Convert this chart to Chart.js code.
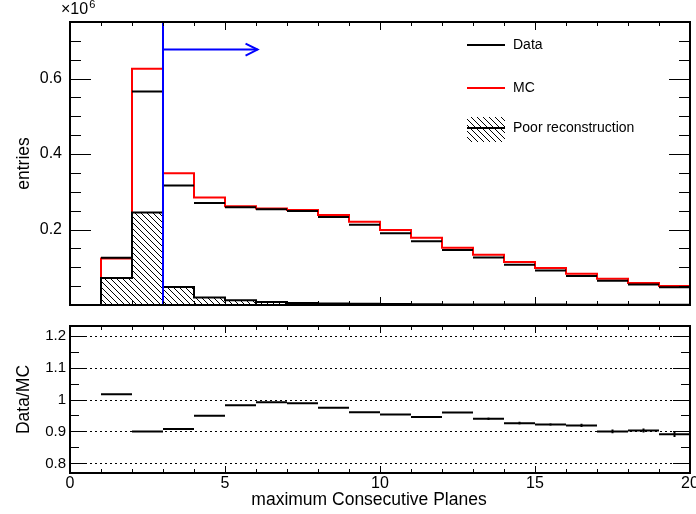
<!DOCTYPE html>
<html>
<head>
<meta charset="utf-8">
<script src="https://cdn.jsdelivr.net/npm/chart.js@4.4.1/dist/chart.umd.min.js"></script>
<style>
  body { margin: 0; background: #fff; }
  canvas { position: absolute; left: 0; }
  #topPad { top: 0; }
  #ratioPad { top: 310px; }
</style>
</head>
<body>
<canvas id="topPad" width="696" height="310"></canvas>
<canvas id="ratioPad" width="696" height="204"></canvas>
<script>
// bins of "maximum Consecutive Planes" (lower edges), last edge = 20
const BIN_LOW = [0, 1, 2, 3, 4, 5, 6, 7, 8, 9, 10, 11, 12, 13, 14, 15, 16, 17, 18, 19];
const X_MAX = 20;

// entries in units of 10^6
const MC = [0, 0.123, 0.626, 0.349, 0.285, 0.262, 0.256, 0.252, 0.2388, 0.2203,
  0.199, 0.178, 0.1517, 0.133, 0.1138, 0.098, 0.083, 0.0697, 0.0584, 0.0505];
const DATA = [0, 0.125, 0.566, 0.317, 0.2705, 0.259, 0.2535, 0.249, 0.233, 0.213,
  0.190, 0.169, 0.146, 0.126, 0.1067, 0.0917, 0.0769, 0.0645, 0.054, 0.0468];
const POOR = [0, 0.0716, 0.245, 0.048, 0.020, 0.0125, 0.008, 0.005, 0.004, 0.003,
  0.0025, 0.002, 0.0015, 0.0012, 0.001, 0.001, 0.0008, 0.0007, 0.0006, 0.0005];

// Data/MC ratio and its error (bin 0 empty)
const RATIO = [null, 1.0165, 0.900, 0.9075, 0.949, 0.982, 0.9915, 0.9885, 0.974, 0.9604,
  0.953, 0.945, 0.9595, 0.9396, 0.926, 0.922, 0.919, 0.900, 0.903, 0.891];
const RATIO_ERR = [null, 0.003, 0.002, 0.002, 0.002, 0.002, 0.002, 0.002, 0.002, 0.003,
  0.003, 0.003, 0.003, 0.004, 0.004, 0.004, 0.005, 0.006, 0.006, 0.008];

// axis ticks
const X_TICKS = [0, 5, 10, 15, 20];
const Y_TICKS = [0.2, 0.4, 0.6];
const RATIO_TICKS = [0.8, 0.9, 1, 1.1, 1.2];
const Y_RANGE = [0, 0.75];
const RATIO_RANGE = [0.77, 1.23];

// cut marker
const CUT_X = 3;
const ARROW_END = 6.05;
const ARROW_Y = 0.677;

const FONT = "'Liberation Sans', Arial, Helvetica, sans-serif";
Chart.defaults.font.family = FONT;
Chart.defaults.color = "#000";

// step histogram points (value held from lower edge to next edge)
function steps(vals) {
  const pts = BIN_LOW.map((x, i) => ({ x, y: vals[i] }));
  pts.push({ x: X_MAX, y: vals[vals.length - 1] });
  return pts;
}

// horizontal bar per bin, optionally with vertical error bar
function binSegments(vals, errs) {
  const pts = [];
  BIN_LOW.forEach((lo, i) => {
    if (vals[i] === null) return;
    const hi = lo + 1;
    pts.push({ x: lo, y: vals[i] }, { x: hi, y: vals[i] }, { x: hi, y: null });
    if (errs) {
      const mid = lo + 0.5;
      pts.push({ x: mid, y: vals[i] - errs[i] }, { x: mid, y: vals[i] + errs[i] }, { x: mid, y: null });
    }
  });
  return pts;
}

function hatch() {
  const c = document.createElement("canvas");
  c.width = 6; c.height = 6;
  const g = c.getContext("2d");
  g.strokeStyle = "#000";
  g.lineWidth = 1;
  g.beginPath();
  g.moveTo(-1, -1); g.lineTo(7, 7);
  g.moveTo(-1, 5); g.lineTo(1, 7);
  g.moveTo(5, -1); g.lineTo(7, 1);
  g.stroke();
  return g.createPattern(c, "repeat");
}
const HATCH = hatch();

// ROOT style frame with inner ticks
function drawFrame(chart, t) {
  const { ctx, chartArea: a, scales: { x, y } } = chart;
  const seg = (x1, y1, x2, y2) => { ctx.beginPath(); ctx.moveTo(x1, y1); ctx.lineTo(x2, y2); ctx.stroke(); };
  ctx.save();
  ctx.strokeStyle = "#000";
  ctx.lineWidth = 1;
  if (t.grid) {
    ctx.setLineDash([2, 3]);
    t.grid.forEach(v => { const py = Math.round(y.getPixelForValue(v)) + 0.5; seg(a.left, py, a.right, py); });
    ctx.setLineDash([]);
  }
  for (let v = x.min; v <= x.max; v++) {
    const px = Math.round(x.getPixelForValue(v)) + 0.5;
    const len = v % 5 === 0 ? t.xMajor : t.xMinor;
    seg(px, a.bottom, px, a.bottom - len);
    seg(px, a.top, px, a.top + len);
  }
  for (let k = Math.ceil(y.min / t.yStep); k * t.yStep <= y.max + 1e-9; k++) {
    const v = k * t.yStep;
    const py = Math.round(y.getPixelForValue(v)) + 0.5;
    const major = k % t.yEvery === 0;
    const len = major ? t.yMajor : t.yMinor;
    seg(a.left, py, a.left + len, py);
    seg(a.right, py, a.right - len, py);
  }
  ctx.lineWidth = 2;
  ctx.strokeRect(a.left, a.top, a.right - a.left, a.bottom - a.top);
  ctx.restore();
}

const topDecor = {
  id: "topDecor",
  afterDatasetsDraw(chart) {
    const { ctx, chartArea: a, scales: { x, y } } = chart;
    // arrow head of the cut
    const px = x.getPixelForValue(ARROW_END), py = y.getPixelForValue(ARROW_Y);
    ctx.save();
    ctx.strokeStyle = "#0000ff";
    ctx.lineWidth = 2;
    ctx.beginPath();
    ctx.moveTo(px - 12, py - 6); ctx.lineTo(px, py); ctx.lineTo(px - 12, py + 6);
    ctx.stroke();
    ctx.restore();

    drawFrame(chart, { xMajor: 8, xMinor: 4, yStep: 0.05, yEvery: 4, yMajor: 21, yMinor: 11 });

    // exponent label
    ctx.save();
    ctx.fillStyle = "#000";
    ctx.textBaseline = "alphabetic";
    ctx.font = "16px " + FONT;
    ctx.fillText("\u00d710", a.left - 9, 14);
    const w = ctx.measureText("\u00d710").width;
    ctx.font = "11px " + FONT;
    ctx.fillText("6", a.left - 9 + w + 1, 8);

    // legend
    const lx0 = 467, lx1 = 505, tx = 513;
    ctx.font = "14px " + FONT;
    ctx.textBaseline = "middle";
    ctx.lineWidth = 2;
    ctx.strokeStyle = "#000";
    ctx.beginPath(); ctx.moveTo(lx0, 45); ctx.lineTo(lx1, 45); ctx.stroke();
    ctx.fillText("Data", tx, 45);
    ctx.strokeStyle = "#ff0000";
    ctx.beginPath(); ctx.moveTo(lx0, 88); ctx.lineTo(lx1, 88); ctx.stroke();
    ctx.fillText("MC", tx, 88);
    ctx.fillStyle = HATCH;
    ctx.fillRect(lx0, 117, lx1 - lx0, 25);
    ctx.strokeStyle = "#000";
    ctx.beginPath(); ctx.moveTo(lx0, 128); ctx.lineTo(lx1, 128); ctx.stroke();
    ctx.fillStyle = "#000";
    ctx.fillText("Poor reconstruction", tx, 128);
    ctx.restore();
  }
};

const ratioDecor = {
  id: "ratioDecor",
  afterDatasetsDraw(chart) {
    const { ctx, chartArea: a } = chart;
    drawFrame(chart, { grid: RATIO_TICKS, xMajor: 7, xMinor: 4, yStep: 0.05, yEvery: 2, yMajor: 17, yMinor: 9 });
    ctx.save();
    ctx.fillStyle = "#000";
    ctx.font = "17.5px " + FONT;
    ctx.textAlign = "center";
    ctx.textBaseline = "middle";
    ctx.fillText("maximum Consecutive Planes", a.left + 299, a.bottom + 27);
    ctx.restore();
  }
};

const histLine = { pointRadius: 0, borderWidth: 2, fill: false, spanGaps: false };
const noEdgePad = s => { s.paddingTop = 0; s.paddingBottom = 0; s.paddingLeft = 0; s.paddingRight = 0; };

new Chart(document.getElementById("topPad"), {
  type: "line",
  data: {
    datasets: [
      { ...histLine, data: [{ x: CUT_X, y: Y_RANGE[0] }, { x: CUT_X, y: Y_RANGE[1] }, { x: CUT_X, y: null },
          { x: CUT_X, y: ARROW_Y }, { x: ARROW_END, y: ARROW_Y }], borderColor: "#0000ff" },
      { ...histLine, data: binSegments(DATA), borderColor: "#000" },
      { ...histLine, data: steps(POOR), stepped: true, borderColor: "#000", backgroundColor: HATCH, fill: "origin" },
      { ...histLine, data: steps(MC), stepped: true, borderColor: "#ff0000" },
    ]
  },
  options: {
    responsive: false,
    animation: false,
    events: [],
    layout: { autoPadding: false, padding: { left: 0, right: 6, top: 22, bottom: 5 } },
    plugins: { legend: { display: false }, tooltip: { enabled: false } },
    scales: {
      x: { type: "linear", min: 0, max: X_MAX, display: false },
      y: {
        type: "linear", min: Y_RANGE[0], max: Y_RANGE[1],
        grid: { display: false, drawTicks: false },
        border: { display: false },
        afterBuildTicks: s => { s.ticks = Y_TICKS.map(v => ({ value: v })); },
        afterFit: s => { s.width = 70; noEdgePad(s); },
        ticks: { padding: 8, font: { size: 16 }, callback: v => String(v) },
        title: { display: true, text: "entries", font: { size: 17.5 }, padding: { top: 14, bottom: 0 } }
      }
    }
  },
  plugins: [topDecor]
});

new Chart(document.getElementById("ratioPad"), {
  type: "line",
  data: {
    datasets: [
      { ...histLine, data: binSegments(RATIO, RATIO_ERR), borderColor: "#000" }
    ]
  },
  options: {
    responsive: false,
    animation: false,
    events: [],
    layout: { autoPadding: false, padding: { left: 0, right: 6, top: 16, bottom: 0 } },
    plugins: { legend: { display: false }, tooltip: { enabled: false } },
    scales: {
      x: {
        type: "linear", min: 0, max: X_MAX,
        grid: { display: false, drawTicks: false },
        border: { display: false },
        afterBuildTicks: s => { s.ticks = X_TICKS.map(v => ({ value: v })); },
        afterFit: s => { s.height = 41; noEdgePad(s); },
        ticks: { padding: 1, font: { size: 16 }, maxRotation: 0, callback: v => String(v) }
      },
      y: {
        type: "linear", min: RATIO_RANGE[0], max: RATIO_RANGE[1],
        grid: { display: false, drawTicks: false },
        border: { display: false },
        afterBuildTicks: s => { s.ticks = RATIO_TICKS.map(v => ({ value: v })); },
        afterFit: s => { s.width = 70; noEdgePad(s); },
        ticks: { padding: 4, font: { size: 15 }, callback: v => String(v) },
        title: { display: true, text: "Data/MC", font: { size: 17.5 }, padding: { top: 14, bottom: 0 } }
      }
    }
  },
  plugins: [ratioDecor]
});
</script>
</body>
</html>
